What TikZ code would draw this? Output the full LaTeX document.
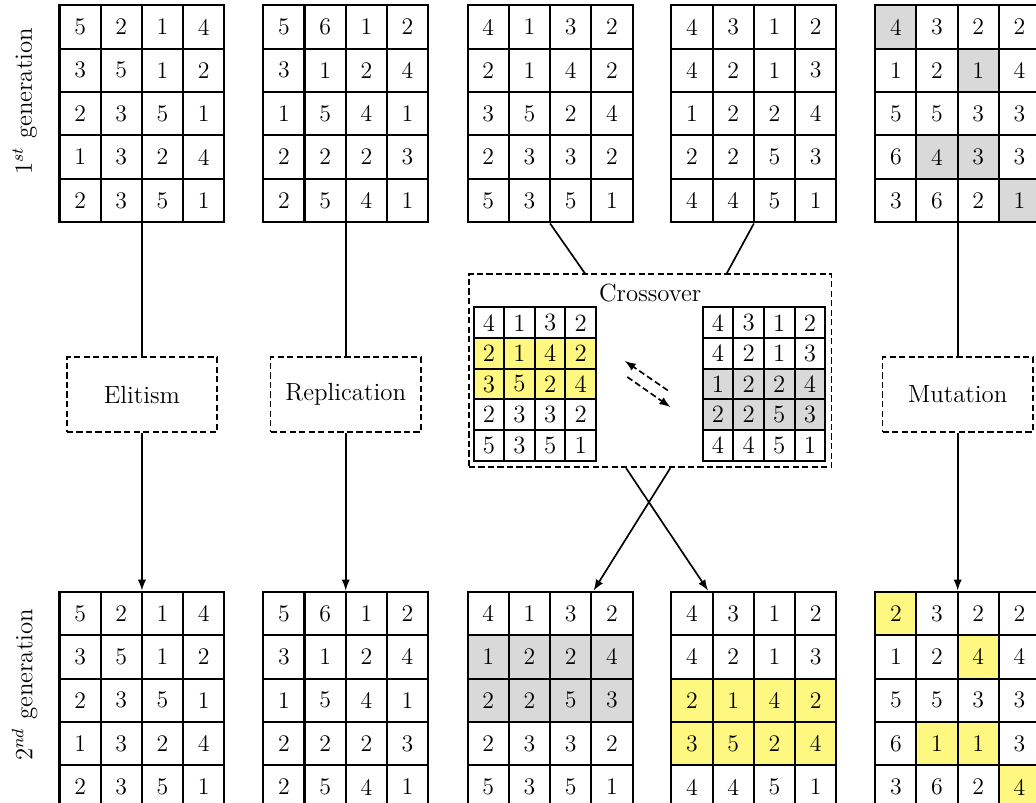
\documentclass[tikz,border=0pt]{standalone}
\usepackage{tikz}
\usetikzlibrary{matrix}
\usetikzlibrary{positioning}
\usetikzlibrary{arrows}
\tikzstyle{cell}=[draw,line width=1pt,minimum width=0.70cm,minimum height=0.736cm,inner sep=0pt,anchor=center,font=\fontsize{11.5}{13}\selectfont]
\tikzstyle{smallcell}=[draw,line width=1pt,minimum size=0.52cm,inner sep=0pt,anchor=center,font=\large]
\tikzstyle{grid}=[matrix of nodes,nodes={cell},column sep=-1pt,row sep=-1pt,inner sep=0pt]
\tikzstyle{smallgrid}=[matrix of nodes,nodes={smallcell},column sep=-1pt,row sep=-1pt,inner sep=0pt]
\tikzstyle{operator}=[draw,thick,dash pattern=on 3pt off 1.6pt,minimum width=2.55cm,minimum height=1.27cm,font=\large]
\tikzstyle{edge}=[draw,thick,-latex]
\tikzstyle{hlg}=[fill=gray!30]
\tikzstyle{hly}=[fill=yellow!50]

\begin{document}
\begin{tikzpicture}
  \useasboundingbox (0,0) rectangle (17.59,13.62);

  % generation labels
  \node[rotate=90,font=\large] (gen1) at (0.42,11.90) {$1^{st}$ generation};
  \node[rotate=90,font=\large] (gen2) at (0.42,1.99) {$2^{nd}$ generation};

  % first generation
  \matrix (top1) at (2.41,11.69) [grid] {
    5 & 2 & 1 & 4 \\ 3 & 5 & 1 & 2 \\ 2 & 3 & 5 & 1 \\ 1 & 3 & 2 & 4 \\ 2 & 3 & 5 & 1 \\ };
  \matrix (top2) at (5.87,11.69) [grid] {
    5 & 6 & 1 & 2 \\ 3 & 1 & 2 & 4 \\ 1 & 5 & 4 & 1 \\ 2 & 2 & 2 & 3 \\ 2 & 5 & 4 & 1 \\ };
  \matrix (top3) at (9.34,11.69) [grid] {
    4 & 1 & 3 & 2 \\ 2 & 1 & 4 & 2 \\ 3 & 5 & 2 & 4 \\ 2 & 3 & 3 & 2 \\ 5 & 3 & 5 & 1 \\ };
  \matrix (top4) at (12.80,11.69) [grid] {
    4 & 3 & 1 & 2 \\ 4 & 2 & 1 & 3 \\ 1 & 2 & 2 & 4 \\ 2 & 2 & 5 & 3 \\ 4 & 4 & 5 & 1 \\ };
  \matrix (top5) at (16.26,11.69) [grid] {
    |[hlg]| 4 & 3 & 2 & 2 \\ 1 & 2 & |[hlg]| 1 & 4 \\ 5 & 5 & 3 & 3 \\
    6 & |[hlg]| 4 & |[hlg]| 3 & 3 \\ 3 & 6 & 2 & |[hlg]| 1 \\ };

  % second generation
  \matrix (bot1) at (2.41,1.73) [grid] {
    5 & 2 & 1 & 4 \\ 3 & 5 & 1 & 2 \\ 2 & 3 & 5 & 1 \\ 1 & 3 & 2 & 4 \\ 2 & 3 & 5 & 1 \\ };
  \matrix (bot2) at (5.87,1.73) [grid] {
    5 & 6 & 1 & 2 \\ 3 & 1 & 2 & 4 \\ 1 & 5 & 4 & 1 \\ 2 & 2 & 2 & 3 \\ 2 & 5 & 4 & 1 \\ };
  \matrix (bot3) at (9.34,1.73) [grid,row 2/.style={nodes={hlg}},row 3/.style={nodes={hlg}}] {
    4 & 1 & 3 & 2 \\ 1 & 2 & 2 & 4 \\ 2 & 2 & 5 & 3 \\ 2 & 3 & 3 & 2 \\ 5 & 3 & 5 & 1 \\ };
  \matrix (bot4) at (12.80,1.73) [grid,row 3/.style={nodes={hly}},row 4/.style={nodes={hly}}] {
    4 & 3 & 1 & 2 \\ 4 & 2 & 1 & 3 \\ 2 & 1 & 4 & 2 \\ 3 & 5 & 2 & 4 \\ 4 & 4 & 5 & 1 \\ };
  \matrix (bot5) at (16.26,1.73) [grid] {
    |[hly]| 2 & 3 & 2 & 2 \\ 1 & 2 & |[hly]| 4 & 4 \\ 5 & 5 & 3 & 3 \\
    6 & |[hly]| 1 & |[hly]| 1 & 3 \\ 3 & 6 & 2 & |[hly]| 4 \\ };

  % operators
  \node[operator] (elit) at (2.41,6.92) {Elitism};
  \node[operator] (repl) at (5.87,6.92) {Replication};
  \node[operator] (mut) at (16.26,6.92) {Mutation};

  \node[operator,minimum width=6.16cm,minimum height=3.28cm] (cross) at (11.04,7.326) {};
  \node[font=\large] (xtitle) at (11.04,8.64) {Crossover};
  \matrix (xleft) at (9.08,7.10) [smallgrid,row 2/.style={nodes={hly}},row 3/.style={nodes={hly}}] {
    4 & 1 & 3 & 2 \\ 2 & 1 & 4 & 2 \\ 3 & 5 & 2 & 4 \\ 2 & 3 & 3 & 2 \\ 5 & 3 & 5 & 1 \\ };
  \matrix (xright) at (12.97,7.10) [smallgrid,row 3/.style={nodes={hlg}},row 4/.style={nodes={hlg}}] {
    4 & 3 & 1 & 2 \\ 4 & 2 & 1 & 3 \\ 1 & 2 & 2 & 4 \\ 2 & 2 & 5 & 3 \\ 4 & 4 & 5 & 1 \\ };

  % swap arrows
  \coordinate (swapa) at (11.34,6.99);
  \coordinate (swapb) at (10.61,7.49);
  \coordinate (swapc) at (10.65,7.22);
  \coordinate (swapd) at (11.38,6.71);
  \path[edge,dash pattern=on 3pt off 1.6pt] (swapa) -- (swapb);
  \path[edge,dash pattern=on 3pt off 1.6pt] (swapc) -- (swapd);

  \foreach \gen/\op in {1/elit, 2/repl, 5/mut} {
    \draw[thick] (top\gen.south) -- (\op.north);
    \path[edge] (\op.south) -- (bot\gen.north);
  }

  \draw[thick] (top3.south) -- ([xshift=-1.11cm]cross.north);
  \draw[thick] (top4.south) -- ([xshift=1.30cm]cross.north);
  \path[edge] ([xshift=-0.41cm]cross.south) -- ([xshift=-0.78cm]bot4.north);
  \path[edge] ([xshift=0.34cm]cross.south) -- ([xshift=0.74cm]bot3.north);

\end{tikzpicture}
\end{document}
